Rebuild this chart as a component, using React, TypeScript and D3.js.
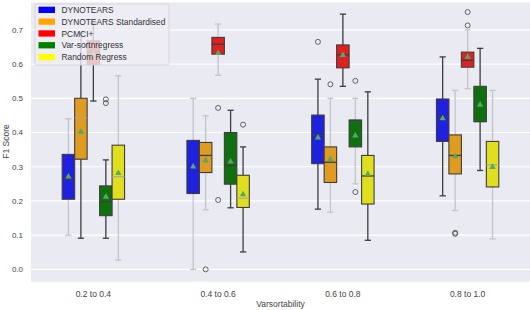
import React from "react";
import * as d3 from "d3";

const categories = ["0.2 to 0.4", "0.4 to 0.6", "0.6 to 0.8", "0.8 to 1.0"];
const seriesNames = ["DYNOTEARS", "DYNOTEARS Standardised", "PCMCI+", "Var-sortnregress", "Random Regress"];
const legendColors = ["#0000ff", "#ffa500", "#ff0000", "#008000", "#ffff00"];
const boxColors = ["#2020df", "#df9c20", "#df2020", "#107010", "#dfdf20"];
const yTicks = [0.0, 0.1, 0.2, 0.3, 0.4, 0.5, 0.6, 0.7];

// per series, per category
const whiskerLow = [
  [0.1, 0.0, 0.176, 0.215],
  [0.091, 0.174, 0.167, 0.172],
  [0.492, 0.567, 0.535, 0.528],
  [0.091, 0.18, 0.25, 0.289],
  [0.027, 0.051, 0.085, 0.089],
];
const q1 = [
  [0.205, 0.222, 0.309, 0.374],
  [0.322, 0.283, 0.254, 0.279],
  [0.599, 0.629, 0.589, 0.591],
  [0.157, 0.249, 0.358, 0.432],
  [0.205, 0.181, 0.191, 0.241],
];
const median = [
  [0.263, 0.222, 0.392, 0.447],
  [0.443, 0.333, 0.313, 0.333],
  [0.635, 0.658, 0.627, 0.611],
  [0.198, 0.304, 0.436, 0.432],
  [0.271, 0.208, 0.273, 0.306],
];
const q3 = [
  [0.336, 0.377, 0.451, 0.498],
  [0.5, 0.371, 0.358, 0.393],
  [0.668, 0.678, 0.656, 0.635],
  [0.244, 0.4, 0.436, 0.535],
  [0.363, 0.275, 0.333, 0.374],
];
const whiskerHigh = [
  [0.44, 0.5, 0.556, 0.621],
  [0.69, 0.449, 0.5, 0.523],
  [0.72, 0.717, 0.746, 0.7],
  [0.32, 0.465, 0.5, 0.646],
  [0.566, 0.358, 0.519, 0.523],
];
const means = [
  [0.271, 0.3, 0.385, 0.441],
  [0.402, 0.318, 0.322, 0.33],
  [0.63, 0.632, 0.626, 0.621],
  [0.212, 0.315, 0.391, 0.481],
  [0.281, 0.219, 0.278, 0.299],
];
const outliers = [
  [[], [], [0.665], []],
  [[], [0.0], [0.541], [0.107, 0.104]],
  [[], [0.472, 0.203], [], [0.752, 0.713]],
  [[0.497, 0.486], [], [0.551, 0.226], []],
  [[], [0.423], [], []],
];
// line tone: "D" dark, "L" light
const whiskerTone = [
  ["L", "L", "D", "D"],
  ["D", "L", "L", "L"],
  ["D", "L", "D", "L"],
  ["D", "D", "L", "D"],
  ["L", "D", "D", "L"],
];
const medianTone = [
  ["D", "D", "D", "D"],
  ["L", "D", "D", "D"],
  ["D", "D", "D", "D"],
  ["D", "D", "D", "D"],
  ["L", "L", "D", "L"],
];

const W = 530;
const H = 310;
const left = 31;
const right = 530;
const top = 2.5;
const bottom = 281.7;

export default function App() {
  const x = d3.scaleBand<string>().domain(categories).range([left, right]).paddingInner(0).paddingOuter(0);
  const y = d3.scaleLinear().domain([-0.036, 0.78]).range([bottom, top]);
  const groupW = x.bandwidth() * 0.5;
  const hue = d3.scaleBand<string>().domain(seriesNames).range([0, groupW]);
  const bw = hue.bandwidth();
  const dark = "#3d3d3d";
  const light = "#c4c4c8";
  const font = "Liberation Sans, Arial, sans-serif";

  const boxes: React.ReactNode[] = [];
  seriesNames.forEach((s, si) => {
    categories.forEach((c, ci) => {
      const x0 = (x(c) as number) + x.bandwidth() * 0.25 + (hue(s) as number);
      const cx = x0 + bw / 2;
      const wc = whiskerTone[si][ci] === "D" ? dark : light;
      const mc = medianTone[si][ci] === "D" ? dark : "rgba(170,170,150,0.9)";
      const capW = bw / 2;
      boxes.push(
        <g key={`${si}-${ci}`}>
          <line x1={cx} x2={cx} y1={y(q3[si][ci])} y2={y(whiskerHigh[si][ci])} stroke={wc} strokeWidth={1.3} />
          <line x1={cx} x2={cx} y1={y(q1[si][ci])} y2={y(whiskerLow[si][ci])} stroke={wc} strokeWidth={1.3} />
          <line x1={cx - capW / 2} x2={cx + capW / 2} y1={y(whiskerHigh[si][ci])} y2={y(whiskerHigh[si][ci])} stroke={wc} strokeWidth={1.3} />
          <line x1={cx - capW / 2} x2={cx + capW / 2} y1={y(whiskerLow[si][ci])} y2={y(whiskerLow[si][ci])} stroke={wc} strokeWidth={1.3} />
          <rect x={x0} y={y(q3[si][ci])} width={bw} height={y(q1[si][ci]) - y(q3[si][ci])} fill={boxColors[si]} stroke={dark} strokeWidth={1.1} />
          <line x1={x0} x2={x0 + bw} y1={y(median[si][ci])} y2={y(median[si][ci])} stroke={mc} strokeWidth={1.3} />
          <path d={d3.symbol(d3.symbolTriangle, 18)() as string} transform={`translate(${cx},${y(means[si][ci])})`} fill="#55a868" />
          {outliers[si][ci].map((o, oi) => (
            <circle key={oi} cx={cx} cy={y(o)} r={2.5} fill="none" stroke="#555" strokeWidth={0.9} />
          ))}
        </g>
      );
    });
  });

  return (
    <svg width={W} height={H} style={{ position: "absolute", left: 0, top: 0 }} fontFamily={font}>
      <rect x={left} y={top} width={right - left} height={bottom - top} fill="#eaeaf2" />
      {yTicks.map((t) => (
        <g key={t}>
          <line x1={left} x2={right} y1={y(t)} y2={y(t)} stroke="#ffffff" strokeWidth={1.2} />
          <text x={23} y={y(t)} dy="0.35em" textAnchor="end" fontSize={8} fill="#444">
            {t.toFixed(1)}
          </text>
        </g>
      ))}
      {boxes}
      {categories.map((c) => (
        <text key={c} x={(x(c) as number) + x.bandwidth() / 2} y={297} textAnchor="middle" fontSize={8.5} fill="#444">
          {c}
        </text>
      ))}
      <text x={(left + right) / 2} y={306.5} textAnchor="middle" fontSize={8.5} fill="#444">
        Varsortability
      </text>
      <text transform={`translate(8.5,${141.5}) rotate(-90)`} textAnchor="middle" fontSize={8.5} fill="#444">
        F1 Score
      </text>
      <g>
        <rect x={35} y={4} width={134} height={61} rx={2} fill="#ededf3" fillOpacity={0.8} stroke="#d0d0d6" strokeWidth={0.8} />
        {seriesNames.map((s, i) => (
          <g key={s} transform={`translate(0,${10 + i * 11.8})`}>
            <rect x={38.5} y={-3.3} width={16.5} height={6.3} fill={legendColors[i]} />
            <text x={61.5} y={0} dy="0.35em" fontSize={8.4} fill="#333">
              {s}
            </text>
          </g>
        ))}
      </g>
    </svg>
  );
}
